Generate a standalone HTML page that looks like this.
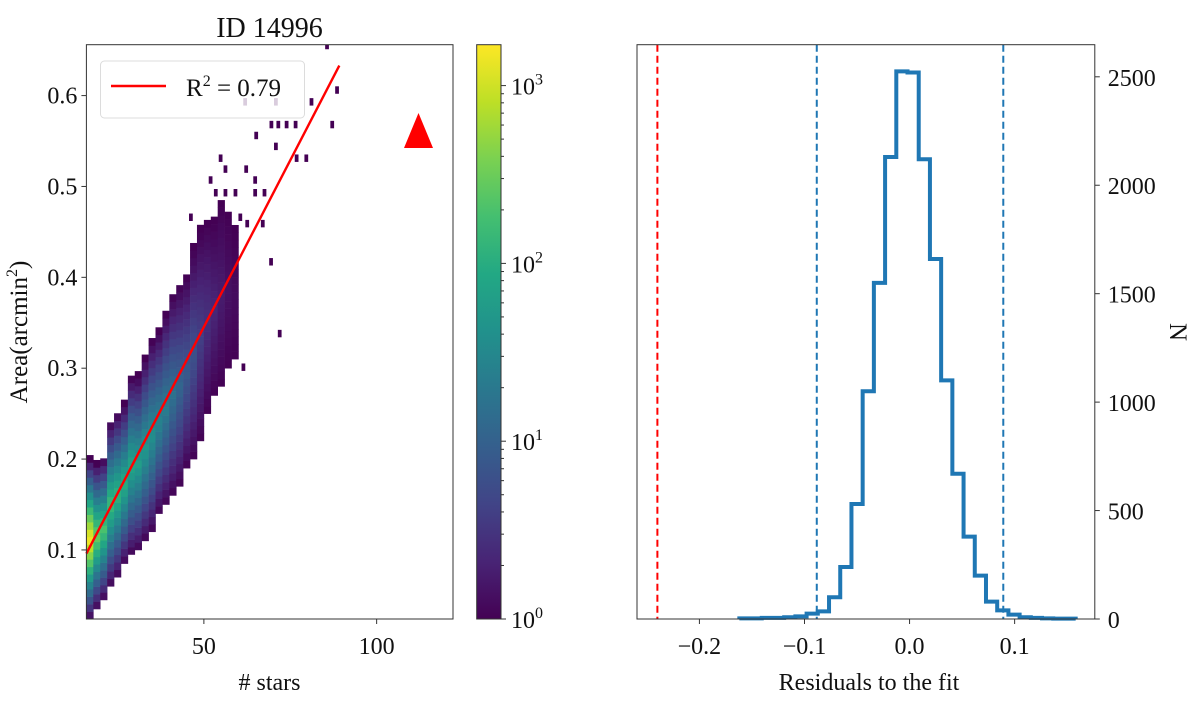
<!DOCTYPE html>
<html><head><meta charset="utf-8"><style>
html,body{margin:0;padding:0;background:#fff;}
svg{display:block;font-family:"Liberation Serif",serif;}
</style></head><body>
<svg id="fig" width="1200" height="701" viewBox="0 0 1200 701" xmlns="http://www.w3.org/2000/svg">
<defs>
<linearGradient id="vir" x1="0" y1="1" x2="0" y2="0">
<stop offset="0" stop-color="#440154"/><stop offset="0.1" stop-color="#482475"/><stop offset="0.2" stop-color="#414487"/><stop offset="0.3" stop-color="#355f8d"/><stop offset="0.4" stop-color="#2a788e"/><stop offset="0.5" stop-color="#21918c"/><stop offset="0.6" stop-color="#22a884"/><stop offset="0.7" stop-color="#44bf70"/><stop offset="0.8" stop-color="#7ad151"/><stop offset="0.9" stop-color="#bddf26"/><stop offset="1" stop-color="#fde725"/>
</linearGradient>
<clipPath id="clipL"><rect x="86.4" y="44.7" width="366.6" height="574.3"/></clipPath>
</defs>
<g id="left"></g>
<g id="cbar"></g>
<g id="right"></g>
</svg>
<script>
// ---------- Left panel data ----------
const colStars = [16,18,20,22,24,26,28,30,32,34,36,38,40,42,44,46,48,50,52,54,56,58];
const colLo    = [0.024,0.035,0.045,0.06,0.07,0.085,0.095,0.10,0.11,0.12,0.14,0.15,0.16,0.17,0.19,0.20,0.22,0.25,0.27,0.28,0.30,0.31];
const colHi    = [0.20,0.195,0.20,0.24,0.25,0.26,0.29,0.29,0.31,0.33,0.34,0.36,0.38,0.39,0.40,0.43,0.45,0.46,0.46,0.48,0.47,0.45];
const colPeak  = [3.2,2.5,2.3,2.2,2.1,2.0,1.9,1.8,1.7,1.6,1.45,1.35,1.2,1.05,0.9,0.8,0.6,0.45,0.35,0.25,0.15,0.1];
const outS = [85.1,88,80.6,69,71,73.4,76,86.6,64.6,70.3,76.3,79.1,54.3,55.7,61.7,51.4,64.3,52.9,55.7,58.6,64.3,67,45.7,60,62,66.5,68.9,71.4,60.9,61.4,70.3];
const outA = [0.651,0.602,0.589,0.564,0.564,0.564,0.564,0.564,0.552,0.54,0.527,0.527,0.527,0.515,0.515,0.503,0.503,0.489,0.489,0.489,0.489,0.489,0.462,0.462,0.455,0.455,0.413,0.334,0.297,0.589,0.589];
const fitS = [16,89.2];
const fitA = [0.096,0.633];
const xTicksL = [50,100];
const yTicksL = [0.1,0.2,0.3,0.4,0.5,0.6];
const cbTicks = [0,1,2,3];
// ---------- Right panel data ----------
const binStart = -0.162, binWidth = 0.01067;
const histCounts = [3,3,5,5,8,12,25,35,100,240,530,1050,1550,2130,2525,2520,2120,1660,1100,670,380,200,80,40,20,8,5,3,2,2];
const vlinesBlue = [-0.0883,0.0892];
const vlineRed = [-0.240];
const xTicksR = [-0.2,-0.1,0.0,0.1];
const yTicksR = [0,500,1000,1500,2000,2500];

const NS="http://www.w3.org/2000/svg";
function mk(tag,attrs,parent,text){const e=document.createElementNS(NS,tag);for(const k in attrs)e.setAttribute(k,attrs[k]);if(text!==undefined)e.textContent=text;parent.appendChild(e);return e;}
const vstops=["#440154","#482475","#414487","#355f8d","#2a788e","#21918c","#22a884","#44bf70","#7ad151","#bddf26","#fde725"];
function hx(c){return [parseInt(c.substr(1,2),16),parseInt(c.substr(3,2),16),parseInt(c.substr(5,2),16)];}
function viridis(t){t=Math.max(0,Math.min(1,t));const p=t*10,i=Math.min(9,Math.floor(p)),f=p-i;const a=hx(vstops[i]),b=hx(vstops[i+1]);return "rgb("+a.map((v,k)=>Math.round(v+(b[k]-v)*f)).join(",")+")";}

const L={x0:86.4,x1:453,y0:44.7,y1:619,smin:16.0,smax:122.1,amin:0.024,amax:0.656};
const lx=s=>L.x0+(s-L.smin)/(L.smax-L.smin)*(L.x1-L.x0);
const ly=a=>L.y1-(a-L.amin)/(L.amax-L.amin)*(L.y1-L.y0);
const cmax=3.23;
const left=document.getElementById('left');
const hm=mk('g',{'clip-path':'url(#clipL)'},left);


const dA=0.0082;
colStars.forEach((s,i)=>{
  const lo=colLo[i],hi=colHi[i],c=(lo+hi)/2,h=(hi-lo)/2;
  for(let a=lo;a<hi-1e-9;a+=dA){
    const d=Math.abs(a+dA/2-c)/h;
    const v=Math.max(0,colPeak[i]*(1-Math.pow(d,1.1)));
    const r=mk('rect',{x:lx(s),y:ly(a+dA),width:lx(s+2)-lx(s)+0.3,height:ly(a)-ly(a+dA)+0.3,fill:viridis(v/cmax)},hm);
    
    
  }
});
outS.forEach((s,i)=>{
  const r=mk('rect',{x:lx(s),y:ly(outA[i]+dA),width:lx(s+1)-lx(s)+0.3,height:ly(outA[i])-ly(outA[i]+dA),fill:viridis(0)},hm);
  
  
});
const fl=mk('line',{x1:lx(fitS[0]),y1:ly(fitA[0]),x2:lx(fitS[1]),y2:ly(fitA[1]),stroke:'#ff0000','stroke-width':2.4},left);


const tri=mk('polygon',{points:'404,148 418.5,113 433,148',fill:'#ff0000'},left);


const lg=mk('g',{},left);


mk('rect',{x:100.5,y:61,width:204,height:57,rx:4,fill:'#fff','fill-opacity':0.8,stroke:'#dcdcdc','stroke-width':1},lg);
mk('line',{x1:111,y1:86,x2:166,y2:86,stroke:'#ff0000','stroke-width':2.4},lg);
const lt=mk('text',{x:186,y:96,'font-size':25,fill:'#111'},lg);


lt.innerHTML='R<tspan dy="-10" font-size="16">2</tspan><tspan dy="10"> = 0.79</tspan>';
mk('rect',{x:L.x0,y:L.y0,width:L.x1-L.x0,height:L.y1-L.y0,fill:'none',stroke:'#333','stroke-width':1},left);
xTicksL.forEach(t=>{const x=lx(t);mk('line',{x1:x,y1:L.y1,x2:x,y2:L.y1+5,stroke:'#333'},left);
  const e=mk('text',{x:x,y:654,'font-size':24,'text-anchor':'middle',fill:'#111'},left,String(t));
  });
yTicksL.forEach(t=>{const y=ly(t);mk('line',{x1:L.x0-5,y1:y,x2:L.x0,y2:y,stroke:'#333'},left);
  const e=mk('text',{x:L.x0-9,y:y+8,'font-size':24,'text-anchor':'end',fill:'#111'},left,t.toFixed(1));
  });
const ti=mk('text',{x:269.5,y:37,'font-size':28,'text-anchor':'middle',fill:'#111'},left,'ID 14996');

const xl=mk('text',{x:269.5,y:690,'font-size':24,'text-anchor':'middle',fill:'#111'},left,'# stars');

const yl=mk('text',{x:0,y:0,'font-size':25,'text-anchor':'middle',fill:'#111',transform:'translate(27,332) rotate(-90)'},left);

yl.innerHTML='Area(arcmin<tspan dy="-10" font-size="16">2</tspan><tspan dy="10">)</tspan>';

const cb=document.getElementById('cbar');
const C={x0:476.7,x1:501,y0:44.7,y1:619};
const cy=v=>C.y1-(v/cmax)*(C.y1-C.y0);
mk('rect',{x:C.x0,y:C.y0,width:C.x1-C.x0,height:C.y1-C.y0,fill:'url(#vir)',stroke:'#333','stroke-width':1},cb);
cbTicks.forEach(t=>{const y=cy(t);mk('line',{x1:C.x1,y1:y,x2:C.x1+5,y2:y,stroke:'#333'},cb);
  const e=mk('text',{x:C.x1+10,y:y+9,'font-size':24,fill:'#111'},cb);
  
  e.innerHTML='10<tspan dy="-10" font-size="16">'+t+'</tspan>';
  for(let m=2;m<10;m++){const v=t+Math.log10(m);if(v<=cmax)mk('line',{x1:C.x1,y1:cy(v),x2:C.x1+3,y2:cy(v),stroke:'#333'},cb);}
});

const right=document.getElementById('right');
const R={x0:637,x1:1094.8,y0:44.7,y1:619,rmin:-0.2594,rmax:0.1763,nmax:2648};
const rx=v=>R.x0+(v-R.rmin)/(R.rmax-R.rmin)*(R.x1-R.x0);
const ry=n=>R.y1-n/R.nmax*(R.y1-R.y0);
vlineRed.forEach(v=>{const e=mk('line',{x1:rx(v),y1:R.y0,x2:rx(v),y2:R.y1,stroke:'#ff0000','stroke-width':2,'stroke-dasharray':'7,4'},right);
  });
vlinesBlue.forEach(v=>{const e=mk('line',{x1:rx(v),y1:R.y0,x2:rx(v),y2:R.y1,stroke:'#1f77b4','stroke-width':2,'stroke-dasharray':'7,4'},right);
  });
let d='M'+rx(binStart)+','+ry(0);
histCounts.forEach((c,i)=>{const a=binStart+i*binWidth,b=a+binWidth;d+=' L'+rx(a)+','+ry(c)+' L'+rx(b)+','+ry(c);});
d+=' L'+rx(binStart+histCounts.length*binWidth)+','+ry(0);
const hp=mk('path',{d:d,fill:'none',stroke:'#1f77b4','stroke-width':4,'stroke-linejoin':'miter'},right);

mk('rect',{x:R.x0,y:R.y0,width:R.x1-R.x0,height:R.y1-R.y0,fill:'none',stroke:'#333','stroke-width':1},right);
xTicksR.forEach(t=>{const x=rx(t);mk('line',{x1:x,y1:R.y1,x2:x,y2:R.y1+5,stroke:'#333'},right);
  const e=mk('text',{x:x,y:654,'font-size':24,'text-anchor':'middle',fill:'#111'},right,(t<0?'\u2212':'')+Math.abs(t).toFixed(1));
  });
yTicksR.forEach(t=>{const y=ry(t);mk('line',{x1:R.x1,y1:y,x2:R.x1+5,y2:y,stroke:'#333'},right);
  const e=mk('text',{x:R.x1+13,y:y+9,'font-size':24,fill:'#111'},right,String(t));
  });
const rxl=mk('text',{x:869,y:690,'font-size':24,'text-anchor':'middle',fill:'#111'},right,'Residuals to the fit');

const ryl=mk('text',{x:0,y:0,'font-size':25,'text-anchor':'middle',fill:'#111',transform:'translate(1170,332) rotate(90)'},right,'N');

</script>
</body></html>
